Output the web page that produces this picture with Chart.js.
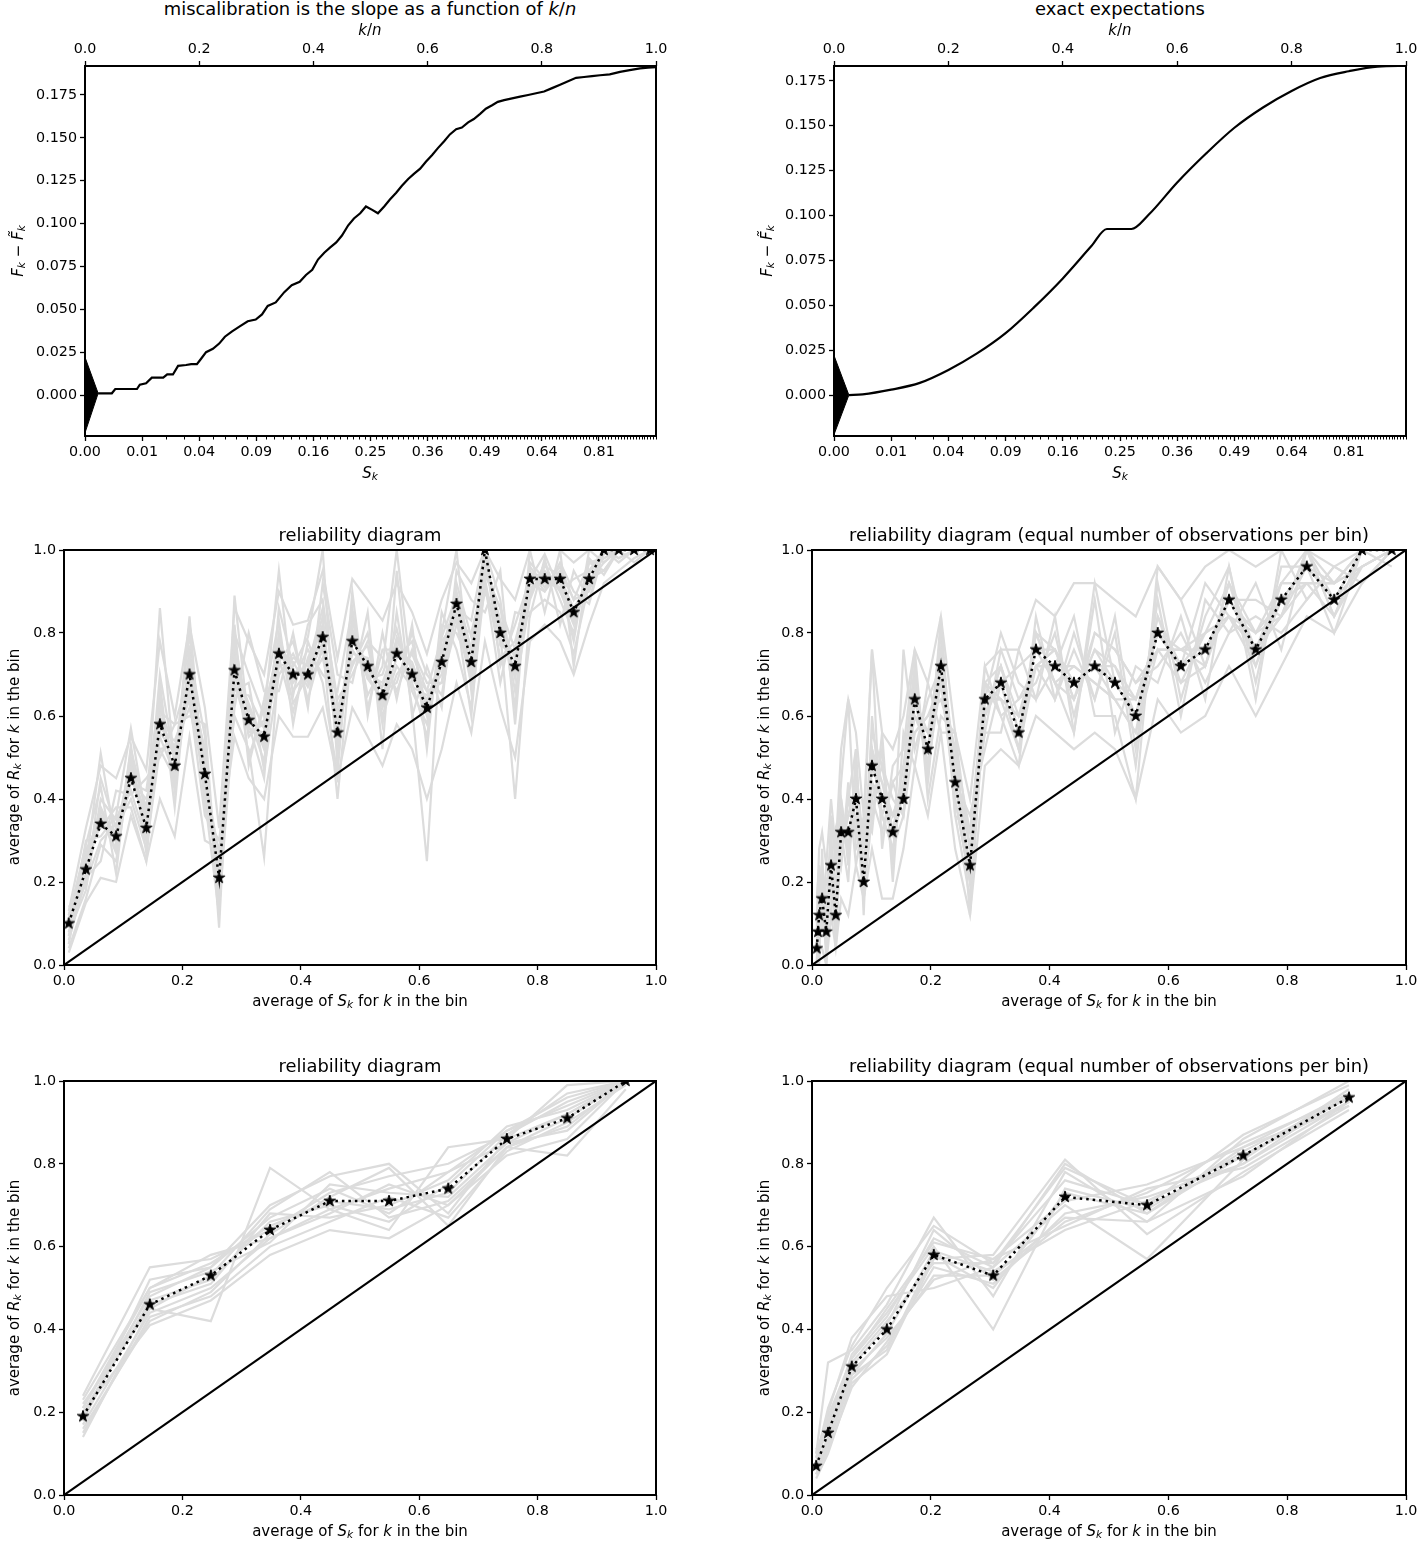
<!DOCTYPE html>
<html><head><meta charset="utf-8">
<script src="https://cdn.jsdelivr.net/npm/chart.js@4.4.0/dist/chart.umd.min.js"></script>
<style>
html,body{margin:0;padding:0;background:#fff;}
body{width:1419px;height:1541px;position:relative;overflow:hidden;font-family:'DejaVu Sans',sans-serif;}
canvas{position:absolute;z-index:1;}
.t{position:absolute;white-space:nowrap;transform:translate(-50%,-50%);color:#000;font-size:15px;line-height:1;z-index:2;}
.ttl{font-size:17.9px;}
.rot{transform:translate(-50%,-50%) rotate(-90deg);}
.t i{font-style:oblique;}
.t sub{font-size:70%;vertical-align:-0.25em;line-height:0;}
</style></head><body>
<script>
// ---------- data ----------
// top-left: miscalibration curve (x = k/n, y = F_k - F~_k)
const miscalX = [0.023,0.047,0.053,0.091,0.096,0.107,0.117,0.137,0.144,0.154,0.163,0.177,0.186,0.196,0.203,0.212,0.224,0.235,0.245,0.257,0.271,0.285,0.299,0.310,0.320,0.334,0.349,0.362,0.376,0.387,0.398,0.408,0.419,0.429,0.440,0.450,0.461,0.471,0.482,0.492,0.503,0.513,0.524,0.534,0.545,0.555,0.566,0.576,0.587,0.597,0.608,0.618,0.629,0.639,0.650,0.660,0.671,0.681,0.692,0.702,0.713,0.723,0.734,0.748,0.762,0.776,0.790,0.804,0.818,0.832,0.846,0.860,0.874,0.888,0.902,0.919,0.937,0.954,0.972,0.986,1.000];
const miscalY = [0.001,0.001,0.0035,0.0035,0.006,0.0068,0.0101,0.0101,0.012,0.012,0.017,0.0175,0.018,0.018,0.021,0.025,0.027,0.030,0.034,0.037,0.040,0.043,0.044,0.047,0.052,0.054,0.060,0.064,0.066,0.070,0.073,0.079,0.083,0.086,0.089,0.093,0.099,0.103,0.106,0.110,0.108,0.106,0.110,0.114,0.118,0.122,0.126,0.129,0.132,0.136,0.140,0.144,0.148,0.152,0.155,0.156,0.159,0.161,0.164,0.167,0.169,0.171,0.172,0.173,0.174,0.175,0.176,0.177,0.179,0.181,0.183,0.185,0.1855,0.186,0.1865,0.187,0.1885,0.1895,0.1905,0.191,0.1912];
const miscalTriX = [0, 0.023];
const miscalTriTop = [0.022, 0.001];
const miscalTriBot = [-0.022, 0.001];

// top-right: exact expectations
const expectX = [0.026,0.05,0.1,0.15,0.2,0.25,0.3,0.35,0.4,0.45,0.477,0.52,0.55,0.6,0.65,0.7,0.75,0.8,0.85,0.9,0.95,1.0];
const expectY = [0,0.0004,0.003,0.0068,0.014,0.0232,0.0345,0.049,0.065,0.083,0.0925,0.0925,0.1004,0.1184,0.1344,0.1489,0.1602,0.1694,0.1766,0.1804,0.1830,0.1834];
const expectTriX = [0, 0.026];
const expectTriTop = [0.022, 0];
const expectTriBot = [-0.022, 0];

// diagonal reference
const diagX = [0, 1];
const diagY = [0, 1];

// middle-left: reliability diagram (equal-width bins)
const relAX = [0.008,0.037,0.062,0.088,0.113,0.139,0.162,0.187,0.212,0.238,0.262,0.288,0.312,0.338,0.363,0.387,0.412,0.437,0.462,0.487,0.513,0.538,0.562,0.588,0.613,0.638,0.663,0.688,0.711,0.737,0.762,0.787,0.812,0.838,0.861,0.887,0.912,0.937,0.963,0.990];
const relAY = [0.10,0.23,0.34,0.31,0.45,0.33,0.58,0.48,0.70,0.46,0.21,0.71,0.59,0.55,0.75,0.70,0.70,0.79,0.56,0.78,0.72,0.65,0.75,0.70,0.62,0.73,0.87,0.73,1.00,0.80,0.72,0.93,0.93,0.93,0.85,0.93,1.00,1.00,1.00,1.00];
const relAG1 = [0.12,0.25,0.38,0.30,0.47,0.36,0.60,0.50,0.66,0.49,0.18,0.74,0.62,0.52,0.77,0.68,0.73,0.81,0.53,0.80,0.70,0.68,0.78,0.72,0.60,0.75,0.85,0.70,0.97,0.83,0.69,0.90,0.95,0.90,0.82,0.95,0.98,1.00,1.00,1.00];
const relAG2 = [0.08,0.20,0.30,0.34,0.42,0.30,0.55,0.46,0.73,0.43,0.24,0.68,0.56,0.58,0.72,0.73,0.67,0.76,0.60,0.75,0.74,0.62,0.72,0.67,0.65,0.70,0.90,0.76,1.00,0.77,0.75,0.95,0.90,0.95,0.88,0.90,1.00,0.98,1.00,1.00];
const relAG3 = [0.05,0.27,0.36,0.27,0.50,0.38,0.63,0.44,0.68,0.52,0.15,0.78,0.60,0.49,0.80,0.66,0.71,0.84,0.51,0.83,0.69,0.70,0.81,0.66,0.58,0.78,0.83,0.68,0.95,0.86,0.66,0.88,0.97,0.88,0.80,0.97,0.95,1.00,1.00,1.00];
const relAG4 = [0.14,0.19,0.45,0.33,0.40,0.28,0.52,0.53,0.62,0.45,0.27,0.65,0.65,0.57,0.70,0.75,0.68,0.74,0.58,0.73,0.77,0.60,0.70,0.75,0.66,0.68,0.92,0.79,0.93,0.74,0.78,0.92,0.90,0.97,0.90,0.87,1.00,1.00,1.00,1.00];
const relAG5 = [0.07,0.30,0.31,0.36,0.57,0.35,0.86,0.47,0.84,0.40,0.12,0.89,0.58,0.45,0.86,0.72,0.79,1.00,0.48,0.84,0.65,0.72,1.00,0.68,0.55,0.80,1.00,0.66,1.00,0.88,0.62,0.97,0.93,0.92,0.78,1.00,0.97,1.00,1.00,1.00];
const relAG6 = [0.10,0.24,0.51,0.29,0.44,0.42,0.65,0.42,0.75,0.55,0.09,0.80,0.70,0.60,0.95,0.65,0.82,0.88,0.62,0.72,0.80,0.58,0.85,0.62,0.25,0.82,0.80,0.72,0.90,0.80,0.40,0.85,0.88,0.85,0.75,0.92,0.97,1.00,0.97,1.00];
const relAG7 = [0.04,0.16,0.29,0.25,0.48,0.31,0.57,0.54,0.64,0.36,0.30,0.60,0.52,0.26,0.73,0.78,0.64,0.77,0.40,0.78,0.73,0.66,0.68,0.80,0.70,0.65,0.86,0.83,1.00,0.72,0.82,0.93,0.99,0.90,0.93,0.95,1.00,1.00,1.00,1.00];
const relAG8 = [0.12,0.28,0.33,0.38,0.38,0.25,0.61,0.58,0.70,0.47,0.22,0.75,0.50,0.62,0.76,0.69,0.76,0.70,0.66,0.86,0.62,0.76,0.76,0.73,0.63,0.72,0.84,0.60,0.97,0.82,0.70,0.89,0.96,0.94,0.85,0.93,0.95,1.00,1.00,1.00];
const relAG9 = [0.09,0.22,0.37,0.31,0.46,0.33,0.70,0.49,0.80,0.44,0.19,0.72,0.63,0.53,0.74,0.61,0.74,0.82,0.54,0.76,0.70,0.63,0.74,0.78,0.61,0.76,0.88,0.75,0.98,0.78,0.73,0.91,0.92,0.91,0.83,0.94,1.00,0.97,1.00,1.00];
const relAG10 = [0.11,0.26,0.35,0.28,0.52,0.37,0.56,0.51,0.69,0.48,0.20,0.70,0.57,0.56,0.78,0.71,0.69,0.78,0.57,0.81,0.71,0.67,0.77,0.69,0.64,0.74,0.87,0.71,1.00,0.79,0.71,0.94,0.94,0.93,0.86,0.92,1.00,1.00,1.00,1.00];
const relAG11 = [0.03,0.15,0.21,0.20,0.36,0.25,0.40,0.31,0.55,0.30,0.28,0.55,0.45,0.40,0.60,0.55,0.55,0.62,0.45,0.62,0.55,0.48,0.58,0.52,0.40,0.52,0.68,0.56,0.78,0.62,0.50,0.78,0.82,0.78,0.70,0.82,0.92,0.95,0.98,1.00];
const relAG12 = [0.13,0.33,0.48,0.45,0.55,0.47,0.78,0.60,0.82,0.62,0.33,0.86,0.78,0.70,0.90,0.82,0.83,0.95,0.74,0.93,0.88,0.83,0.92,0.85,0.75,0.88,0.97,0.92,1.00,0.93,0.88,1.00,1.00,1.00,0.97,1.00,1.00,1.00,1.00,1.00];
const relAG13 = [0.06,0.21,0.25,0.42,0.41,0.45,0.50,0.58,0.60,0.58,0.14,0.62,0.80,0.66,0.66,0.80,0.62,0.92,0.70,0.68,0.85,0.52,0.95,0.60,0.72,0.62,0.95,0.88,0.85,0.95,0.58,1.00,0.85,1.00,0.72,0.98,0.94,1.00,1.00,1.00];
const relAG14 = [0.11,0.29,0.43,0.22,0.53,0.27,0.68,0.38,0.77,0.38,0.25,0.82,0.48,0.64,0.83,0.58,0.78,0.68,0.46,0.90,0.60,0.80,0.64,0.82,0.52,0.85,0.76,0.62,0.92,0.68,0.85,0.84,0.98,0.82,0.95,0.88,1.00,0.98,1.00,1.00];
const relAG15 = [0.08,0.18,0.40,0.35,0.44,0.40,0.52,0.45,0.72,0.50,0.17,0.66,0.68,0.47,0.70,0.74,0.72,0.86,0.64,0.70,0.78,0.74,0.66,0.76,0.68,0.68,0.82,0.80,0.94,0.86,0.76,0.96,0.91,0.96,0.88,0.97,0.98,1.00,1.00,1.00];
const relAG16 = [0.10,0.25,0.36,0.32,0.49,0.34,0.62,0.52,0.67,0.41,0.23,0.76,0.55,0.59,0.79,0.63,0.70,0.80,0.55,0.79,0.69,0.64,0.79,0.71,0.66,0.79,0.89,0.74,0.99,0.81,0.74,0.92,0.94,0.92,0.84,0.91,0.99,1.00,1.00,1.00];

// middle-right: reliability diagram (equal number of observations per bin)
const relBX = [0.008,0.010,0.012,0.017,0.024,0.032,0.040,0.049,0.061,0.074,0.087,0.101,0.118,0.136,0.154,0.173,0.195,0.217,0.241,0.266,0.291,0.318,0.348,0.377,0.409,0.441,0.476,0.510,0.545,0.582,0.621,0.662,0.702,0.747,0.790,0.833,0.879,0.926,0.976];
const relBY = [0.04,0.08,0.12,0.16,0.08,0.24,0.12,0.32,0.32,0.40,0.20,0.48,0.40,0.32,0.40,0.64,0.52,0.72,0.44,0.24,0.64,0.68,0.56,0.76,0.72,0.68,0.72,0.68,0.60,0.80,0.72,0.76,0.88,0.76,0.88,0.96,0.88,1.00,1.00];
const relBG1 = [0.08,0.04,0.16,0.20,0.12,0.28,0.16,0.36,0.28,0.44,0.24,0.52,0.44,0.36,0.44,0.60,0.56,0.68,0.48,0.28,0.60,0.72,0.60,0.72,0.76,0.64,0.76,0.72,0.64,0.76,0.76,0.80,0.84,0.80,0.84,0.92,0.92,0.96,1.00];
const relBG2 = [0.00,0.12,0.08,0.12,0.04,0.20,0.16,0.28,0.36,0.36,0.16,0.44,0.36,0.28,0.44,0.68,0.48,0.76,0.40,0.20,0.68,0.64,0.52,0.80,0.68,0.72,0.68,0.64,0.56,0.84,0.68,0.72,0.92,0.72,0.92,1.00,0.84,1.00,1.00];
const relBG3 = [0.04,0.08,0.12,0.24,0.12,0.32,0.08,0.40,0.24,0.48,0.28,0.56,0.48,0.40,0.36,0.56,0.60,0.64,0.52,0.32,0.56,0.76,0.64,0.68,0.80,0.60,0.80,0.76,0.68,0.72,0.80,0.68,0.80,0.84,0.80,0.88,0.96,0.92,1.00];
const relBG4 = [0.12,0.00,0.20,0.08,0.16,0.16,0.20,0.24,0.40,0.32,0.24,0.40,0.32,0.44,0.48,0.72,0.44,0.84,0.36,0.16,0.72,0.60,0.48,0.84,0.64,0.76,0.64,0.80,0.48,0.92,0.64,0.84,0.96,0.68,0.96,0.96,0.80,1.00,1.00];
const relBG5 = [0.08,0.16,0.04,0.28,0.00,0.36,0.24,0.44,0.64,0.28,0.32,0.76,0.28,0.48,0.52,0.76,0.40,0.60,0.56,0.12,0.64,0.80,0.68,0.64,0.72,0.84,0.60,0.60,0.40,0.96,0.88,0.72,0.88,0.88,0.84,1.00,0.92,0.96,1.00];
const relBG6 = [0.00,0.08,0.24,0.12,0.20,0.24,0.04,0.32,0.20,0.52,0.16,0.36,0.52,0.24,0.76,0.52,0.64,0.72,0.44,0.36,0.52,0.68,0.72,0.76,0.68,0.56,0.92,0.68,0.64,0.80,0.72,0.92,0.84,0.72,0.88,0.92,0.84,1.00,0.96];
const relBG7 = [0.04,0.12,0.12,0.20,0.08,0.28,0.12,0.36,0.32,0.40,0.20,0.44,0.40,0.36,0.40,0.64,0.56,0.76,0.48,0.28,0.64,0.64,0.60,0.76,0.76,0.68,0.72,0.72,0.60,0.80,0.76,0.76,0.88,0.80,0.88,0.96,0.88,1.00,1.00];
const relBG8 = [0.12,0.04,0.16,0.16,0.16,0.20,0.16,0.28,0.36,0.44,0.28,0.52,0.36,0.28,0.36,0.68,0.48,0.68,0.40,0.20,0.68,0.72,0.56,0.72,0.72,0.72,0.68,0.64,0.56,0.76,0.68,0.80,0.92,0.76,0.92,0.92,0.92,1.00,1.00];
const relBG9 = [0.04,0.08,0.08,0.12,0.12,0.24,0.20,0.40,0.28,0.36,0.24,0.48,0.44,0.32,0.44,0.60,0.52,0.80,0.44,0.24,0.60,0.68,0.52,0.80,0.76,0.64,0.76,0.68,0.60,0.84,0.72,0.76,0.84,0.76,0.84,1.00,0.88,0.96,1.00];
const relBG10 = [0.00,0.04,0.12,0.16,0.04,0.28,0.08,0.32,0.32,0.40,0.20,0.48,0.40,0.36,0.40,0.64,0.52,0.72,0.44,0.24,0.64,0.64,0.60,0.72,0.72,0.68,0.72,0.68,0.64,0.80,0.72,0.76,0.88,0.76,0.88,0.96,0.88,1.00,1.00];
const relBG11 = [0.00,0.00,0.04,0.04,0.00,0.12,0.04,0.16,0.12,0.24,0.16,0.28,0.16,0.16,0.28,0.48,0.36,0.56,0.28,0.12,0.48,0.52,0.48,0.60,0.56,0.52,0.56,0.52,0.40,0.64,0.56,0.60,0.72,0.60,0.72,0.84,0.80,0.92,1.00];
const relBG12 = [0.16,0.20,0.28,0.32,0.24,0.40,0.28,0.52,0.64,0.56,0.36,0.76,0.56,0.52,0.60,0.76,0.68,0.84,0.56,0.40,0.72,0.76,0.76,0.88,0.84,0.92,0.92,0.88,0.84,0.96,0.88,0.96,1.00,0.96,1.00,1.00,0.96,1.00,1.00];
const relBG13 = [0.04,0.20,0.00,0.24,0.16,0.12,0.32,0.24,0.44,0.24,0.36,0.32,0.56,0.20,0.56,0.48,0.68,0.56,0.56,0.28,0.56,0.56,0.76,0.64,0.84,0.56,0.88,0.56,0.72,0.68,0.84,0.64,0.96,0.64,1.00,0.88,0.96,0.92,1.00];
const relBG14 = [0.08,0.04,0.24,0.08,0.24,0.20,0.28,0.28,0.40,0.52,0.12,0.60,0.36,0.44,0.36,0.72,0.44,0.76,0.36,0.32,0.68,0.60,0.64,0.72,0.64,0.80,0.64,0.84,0.52,0.88,0.60,0.88,0.80,0.92,0.76,1.00,0.84,0.96,1.00];
const relBG15 = [0.04,0.12,0.16,0.12,0.12,0.32,0.12,0.36,0.28,0.44,0.24,0.40,0.48,0.32,0.48,0.56,0.60,0.68,0.52,0.20,0.60,0.72,0.56,0.80,0.68,0.64,0.80,0.76,0.68,0.76,0.76,0.72,0.92,0.80,0.92,0.92,0.92,1.00,1.00];
const relBG16 = [0.08,0.08,0.08,0.20,0.08,0.24,0.16,0.32,0.36,0.36,0.20,0.52,0.40,0.36,0.44,0.64,0.48,0.72,0.48,0.28,0.64,0.68,0.52,0.72,0.76,0.68,0.72,0.64,0.64,0.80,0.72,0.80,0.84,0.76,0.84,0.96,0.92,1.00,1.00];

// bottom-left: reliability diagram, 10 bins
const relCX = [0.032,0.145,0.248,0.348,0.449,0.549,0.649,0.748,0.850,0.949];
const relCY = [0.19,0.46,0.53,0.64,0.71,0.71,0.74,0.86,0.91,1.00];
const relCG1 = [0.21,0.48,0.55,0.67,0.74,0.68,0.78,0.88,0.94,1.00];
const relCG2 = [0.17,0.44,0.50,0.62,0.68,0.75,0.70,0.84,0.89,1.00];
const relCG3 = [0.24,0.55,0.57,0.64,0.73,0.77,0.80,0.87,0.95,1.00];
const relCG4 = [0.15,0.43,0.48,0.60,0.66,0.72,0.67,0.83,0.90,0.99];
const relCG5 = [0.19,0.47,0.52,0.66,0.70,0.66,0.75,0.88,0.96,1.00];
const relCG6 = [0.22,0.45,0.42,0.79,0.69,0.64,0.84,0.86,0.92,1.00];
const relCG7 = [0.18,0.49,0.54,0.61,0.75,0.73,0.72,0.85,0.88,1.00];
const relCG8 = [0.20,0.46,0.51,0.68,0.67,0.70,0.76,0.89,0.93,1.00];
const relCG9 = [0.16,0.42,0.49,0.63,0.72,0.79,0.65,0.84,0.82,0.98];
const relCG10 = [0.23,0.50,0.56,0.65,0.71,0.69,0.73,0.87,0.97,1.00];
const relCG11 = [0.18,0.52,0.55,0.70,0.77,0.80,0.68,0.86,0.99,1.00];
const relCG12 = [0.20,0.41,0.47,0.58,0.64,0.62,0.70,0.82,0.86,1.00];
const relCG13 = [0.14,0.45,0.53,0.69,0.78,0.67,0.71,0.84,0.91,1.00];
const relCG14 = [0.21,0.50,0.58,0.62,0.69,0.74,0.78,0.85,0.92,1.00];

// bottom-right: reliability diagram, 10 equal-count bins
const relDX = [0.007,0.027,0.067,0.126,0.205,0.305,0.426,0.564,0.726,0.904];
const relDY = [0.07,0.15,0.31,0.40,0.58,0.53,0.72,0.70,0.82,0.96];
const relDG1 = [0.08,0.18,0.33,0.43,0.62,0.55,0.80,0.68,0.84,0.97];
const relDG2 = [0.05,0.12,0.28,0.36,0.55,0.51,0.68,0.72,0.80,0.95];
const relDG3 = [0.10,0.32,0.35,0.46,0.67,0.48,0.78,0.66,0.86,1.00];
const relDG4 = [0.06,0.14,0.30,0.38,0.52,0.57,0.65,0.74,0.79,0.94];
const relDG5 = [0.09,0.16,0.34,0.44,0.60,0.40,0.74,0.69,0.83,0.96];
const relDG6 = [0.04,0.10,0.27,0.34,0.57,0.58,0.81,0.63,0.78,0.93];
const relDG7 = [0.07,0.20,0.38,0.48,0.50,0.55,0.70,0.57,0.81,0.98];
const relDG8 = [0.11,0.15,0.31,0.41,0.64,0.52,0.66,0.73,0.85,0.96];
const relDG9 = [0.06,0.13,0.29,0.39,0.59,0.54,0.64,0.71,0.82,0.95];
const relDG10 = [0.08,0.17,0.32,0.42,0.56,0.56,0.76,0.70,0.80,0.97];
const relDG11 = [0.05,0.11,0.26,0.37,0.53,0.53,0.67,0.66,0.77,0.95];
const relDG12 = [0.09,0.21,0.36,0.50,0.65,0.56,0.79,0.70,0.87,0.99];
const relDG13 = [0.07,0.14,0.29,0.35,0.58,0.50,0.73,0.68,0.82,0.96];
const relDG14 = [0.10,0.19,0.33,0.45,0.61,0.57,0.71,0.75,0.84,0.94];

// tick values and labels
const unitTicks = [0,0.2,0.4,0.6,0.8,1.0];
const unitLabels = ['0.0','0.2','0.4','0.6','0.8','1.0'];
const sqTickPos = [0,0.1,0.2,0.3,0.4,0.5,0.6,0.7,0.8,0.9];
const sqTickLabels = ['0.00','0.01','0.04','0.09','0.16','0.25','0.36','0.49','0.64','0.81'];
const fTicks = [0,0.025,0.05,0.075,0.1,0.125,0.15,0.175];
const fLabels = ['0.000','0.025','0.050','0.075','0.100','0.125','0.150','0.175'];

// ---------- helpers ----------
const FONT = "'DejaVu Sans', sans-serif";
const minorS = [];
for (let j = 2; j <= 100; j++) { const r = Math.round(Math.sqrt(j)); if (r*r !== j || j === 100) minorS.push(j/100); }

function makeStar(size){
  const c = document.createElement('canvas'); c.width = c.height = size;
  const g = c.getContext('2d'); const cx = size/2, R = size/2 - 1, r = R*0.382;
  g.beginPath();
  for (let k = 0; k < 10; k++){ const a = -Math.PI/2 + k*Math.PI/5; const rad = k%2 ? r : R; g.lineTo(cx + rad*Math.cos(a), cx + rad*Math.sin(a)); }
  g.closePath(); g.fillStyle = '#000'; g.fill(); g.lineWidth = 1; g.strokeStyle = '#000'; g.stroke();
  return c;
}
const starImg = makeStar(14);

const framePlugin = { id:'frame', afterDatasetsDraw(chart){
  const a = chart.chartArea, c = chart.ctx; c.save(); c.strokeStyle = '#000'; c.lineWidth = 2;
  c.strokeRect(a.left, a.top, a.right - a.left, a.bottom - a.top); c.restore(); } };
const minorPlugin = { id:'minorTicks', afterDraw(chart, args, o){
  if (!o || !o.values) return; const xs = chart.scales.x, a = chart.chartArea, c = chart.ctx;
  c.save(); c.strokeStyle = '#000'; c.lineWidth = 1; c.beginPath();
  o.values.forEach(s => { const px = Math.round(xs.getPixelForValue(Math.sqrt(s))) + 0.5; c.moveTo(px, a.bottom); c.lineTo(px, a.bottom + 3.5); });
  c.stroke(); c.restore(); } };

function pts(xs, ys){ return xs.map((x, i) => ({x: x, y: ys[i]})); }

function axis(pos, min, max, ticks, labels, size){
  const vertical = (pos === 'left' || pos === 'right');
  return { type:'linear', position:pos, min:min, max:max,
    afterBuildTicks: s => { s.ticks = ticks.map(v => ({value:v})); },
    afterFit: s => { if (vertical) s.width = size; else s.height = size; },
    ticks:{ autoSkip:false, maxRotation:0, minRotation:0, color:'#000', padding:3,
      font:{family:FONT, size:14.3}, callback:(v, i) => labels[i] },
    grid:{ display:true, drawOnChartArea:false, drawTicks:true, tickLength:5, tickColor:'#000', tickWidth:1.3 },
    border:{ display:false } };
}

function place(rect, hasTop){
  const g = {padL:62, padR:24, padT: hasTop ? 44 : 20, padB:30};
  const c = document.createElement('canvas');
  const w = rect.R - rect.L + g.padL + g.padR, h = rect.B - rect.T + g.padT + g.padB;
  c.width = w; c.height = h;
  c.style.left = (rect.L - g.padL) + 'px'; c.style.top = (rect.T - g.padT) + 'px';
  c.style.width = w + 'px'; c.style.height = h + 'px';
  document.body.appendChild(c); g.canvas = c; return g;
}

function text(html, cx, cy, cls){
  const d = document.createElement('div'); d.className = 't ' + (cls || '');
  d.innerHTML = html; d.style.left = cx + 'px'; d.style.top = cy + 'px'; document.body.appendChild(d);
}

function baseOptions(g, scales, plugins){
  return { responsive:false, animation:false, devicePixelRatio:1, events:[],
    layout:{ padding:{ left:0, right:g.padR, top: scales.x2 ? 0 : g.padT, bottom:0 } },
    plugins: Object.assign({ legend:{display:false}, tooltip:{enabled:false}, title:{display:false} }, plugins || {}),
    scales: scales, elements:{ line:{ tension:0 } } };
}

function curvePanel(rect, curveX, curveY, triX, triTop, triBot, yMin, yMax, smooth){
  const g = place(rect, true);
  const datasets = [
    { data: pts(curveX, curveY), showLine:true, borderColor:'#000', borderWidth:2.2, pointRadius:0,
      cubicInterpolationMode: smooth ? 'monotone' : 'default', order:0 },
    { data: pts(triX, triTop), showLine:true, borderColor:'#000', borderWidth:1, pointRadius:0, backgroundColor:'#000', fill:false, order:1 },
    { data: pts(triX, triBot), showLine:true, borderColor:'#000', borderWidth:1, pointRadius:0, backgroundColor:'#000', fill:'-1', order:1 }
  ];
  const scales = {
    x: axis('bottom', 0, 1, sqTickPos, sqTickLabels, g.padB),
    x2: axis('top', 0, 1, unitTicks, unitLabels, g.padT),
    y: axis('left', yMin, yMax, fTicks, fLabels, g.padL)
  };
  new Chart(g.canvas, { type:'scatter', data:{ datasets }, options: baseOptions(g, scales, { minorTicks:{ values: minorS } }),
    plugins:[framePlugin, minorPlugin] });
}

function relPanel(rect, sx, sy, grays){
  const g = place(rect, false);
  const datasets = [
    { data: pts(sx, sy), showLine:true, borderColor:'#000', borderWidth:2.5, borderDash:[2.5,4],
      pointStyle: starImg, pointRadius:7, order:0 },
    { data: pts(diagX, diagY), showLine:true, borderColor:'#000', borderWidth:2.2, pointRadius:0, order:1 }
  ];
  grays.forEach(gy => datasets.push({ data: pts(sx, gy), showLine:true, borderColor:'#dcdcdc', borderWidth:2.2, pointRadius:0, order:2 }));
  const scales = {
    x: axis('bottom', 0, 1, unitTicks, unitLabels, g.padB),
    y: axis('left', 0, 1, unitTicks, unitLabels, g.padL)
  };
  new Chart(g.canvas, { type:'scatter', data:{ datasets }, options: baseOptions(g, scales), plugins:[framePlugin] });
}

// ---------- panels ----------
curvePanel({L:85,T:66,R:656,B:436}, miscalX, miscalY, miscalTriX, miscalTriTop, miscalTriBot, -0.0239, 0.1919, false);
curvePanel({L:834,T:66,R:1406,B:436}, expectX, expectY, expectTriX, expectTriTop, expectTriBot, -0.0228, 0.1833, true);
relPanel({L:64,T:550,R:656,B:965}, relAX, relAY, [relAG1,relAG2,relAG3,relAG4,relAG5,relAG6,relAG7,relAG8,relAG9,relAG10,relAG11,relAG12,relAG13,relAG14,relAG15,relAG16]);
relPanel({L:812,T:550,R:1406,B:965}, relBX, relBY, [relBG1,relBG2,relBG3,relBG4,relBG5,relBG6,relBG7,relBG8,relBG9,relBG10,relBG11,relBG12,relBG13,relBG14,relBG15,relBG16]);
relPanel({L:64,T:1081,R:656,B:1495}, relCX, relCY, [relCG1,relCG2,relCG3,relCG4,relCG5,relCG6,relCG7,relCG8,relCG9,relCG10,relCG11,relCG12,relCG13,relCG14]);
relPanel({L:812,T:1081,R:1406,B:1495}, relDX, relDY, [relDG1,relDG2,relDG3,relDG4,relDG5,relDG6,relDG7,relDG8,relDG9,relDG10,relDG11,relDG12,relDG13,relDG14]);

// ---------- text ----------
const Fk = '<i>F</i><sub><i>k</i></sub> &minus; <i>F&#771;</i><sub><i>k</i></sub>';
const Sk = '<i>S</i><sub><i>k</i></sub>';
const kn = '<i>k</i>/<i>n</i>';
const xl = 'average of <i>S</i><sub><i>k</i></sub> for <i>k</i> in the bin';
const yl = 'average of <i>R</i><sub><i>k</i></sub> for <i>k</i> in the bin';

text('miscalibration is the slope as a function of ' + kn, 370, 9, 'ttl');
text(kn, 370, 30); text(Sk, 370, 473); text(Fk, 18, 251, 'rot');
text('exact expectations', 1120, 9, 'ttl');
text(kn, 1120, 30); text(Sk, 1120, 473); text(Fk, 767, 251, 'rot');

text('reliability diagram', 360, 535, 'ttl');
text(xl, 360, 1001); text(yl, 14, 757, 'rot');
text('reliability diagram (equal number of observations per bin)', 1109, 535, 'ttl');
text(xl, 1109, 1001); text(yl, 764, 757, 'rot');

text('reliability diagram', 360, 1066, 'ttl');
text(xl, 360, 1531); text(yl, 14, 1288, 'rot');
text('reliability diagram (equal number of observations per bin)', 1109, 1066, 'ttl');
text(xl, 1109, 1531); text(yl, 764, 1288, 'rot');
</script>
</body></html>
